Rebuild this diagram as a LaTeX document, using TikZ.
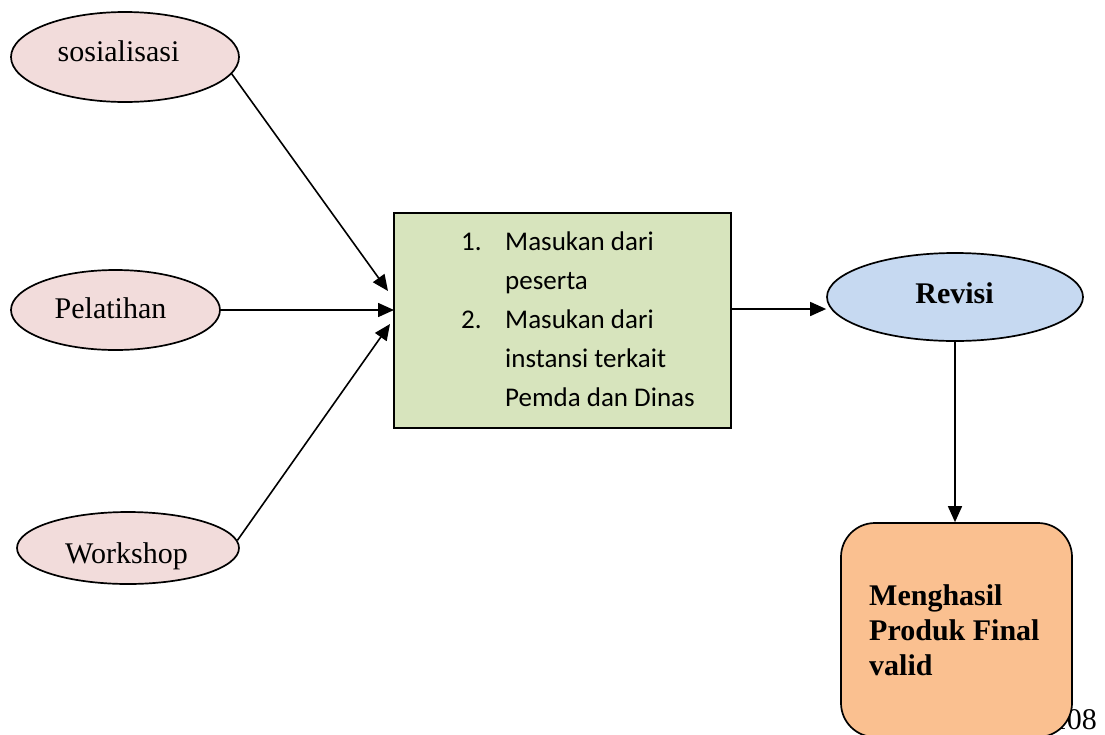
\documentclass[tikz,border=0pt]{standalone}
\usepackage{fontspec}
\setmainfont{Liberation Serif}
\newfontfamily\boxfont{Carlito}
\usetikzlibrary{shapes.geometric,arrows.meta}
\definecolor{pinkfill}{HTML}{F2DCDB}
\definecolor{greenfill}{HTML}{D7E4BD}
\definecolor{bluefill}{HTML}{C6D9F1}
\definecolor{orangefill}{HTML}{FAC090}
\tikzset{
  outline/.style={draw=black, line width=1.7pt},
  pinkell/.style={outline, ellipse, fill=pinkfill, inner sep=0pt},
  inputbox/.style={outline, rectangle, fill=greenfill, inner sep=0pt,
    minimum width=337pt, minimum height=215pt},
  revell/.style={outline, ellipse, fill=bluefill, inner sep=0pt,
    minimum width=256pt, minimum height=88pt},
  finalbox/.style={outline, rectangle, rounded corners=34pt, fill=orangefill,
    inner sep=0pt, minimum width=231pt, minimum height=214pt},
  lbl/.style={font=\fontsize{30}{36}\selectfont, inner sep=0pt, anchor=base},
  flow/.style={line width=1.6pt, -{Triangle[length=16pt,width=14pt]}}
}
\begin{document}
\begin{tikzpicture}[x=1pt, y=-1pt]
\useasboundingbox (0,0) rectangle (1105,734);

% input activities
\node[pinkell, minimum width=228pt, minimum height=90pt] (sos) at (125,57) {};
\node[lbl] (sosT) at (118.5,61) {sosialisasi};
\node[pinkell, minimum width=209pt, minimum height=80pt] (pel) at (115.5,310) {};
\node[lbl] (pelT) at (110.5,318) {Pelatihan};
\node[pinkell, minimum width=222pt, minimum height=72pt] (wor) at (128,548) {};
\node[lbl] (worT) at (126.5,563) {Workshop};

% feedback box
\node[inputbox] (box) at (562.5,320.5) {};
\node[anchor=base west, inner sep=0pt] (boxT) at (461,250)
  {\boxfont\fontsize{27}{39}\selectfont
   \begin{tabular}[t]{@{}p{44pt}@{}l@{}}
   1. & Masukan dari\\
      & peserta\\
   2. & Masukan dari\\
      & instansi terkait\\
      & Pemda dan Dinas
   \end{tabular}};

% revision
\node[revell] (rev) at (955,297) {};
\node[lbl, font=\fontsize{30}{36}\selectfont\bfseries] (revT) at (954.5,303) {Revisi};

% page number behind the final box
\node[lbl, anchor=base east] (pg) at (1097,729) {108};

% final product
\node[finalbox] (fin) at (956.5,630) {};
\node[anchor=base west, inner sep=0pt] (finT) at (869,605)
  {\fontsize{30}{35}\selectfont\bfseries
   \begin{tabular}[t]{@{}l@{}}
   Menghasil\\
   Produk Final\\
   valid
   \end{tabular}};

% arrow end points on the feedback box
\coordinate (in1) at (388,291);
\coordinate (in2) at (394,310);
\coordinate (in3) at (390,324);
\coordinate (out1) at (731,309);

\draw[flow] (sos.-9) -- (in1);
\draw[flow] (pel.east) -- (in2);
\draw[flow] (wor.4) -- (in3);
\draw[flow] (out1) -- (out1 -| rev.west);
\draw[flow] (rev.south) -- (rev.south |- fin.north);
\end{tikzpicture}
\end{document}
